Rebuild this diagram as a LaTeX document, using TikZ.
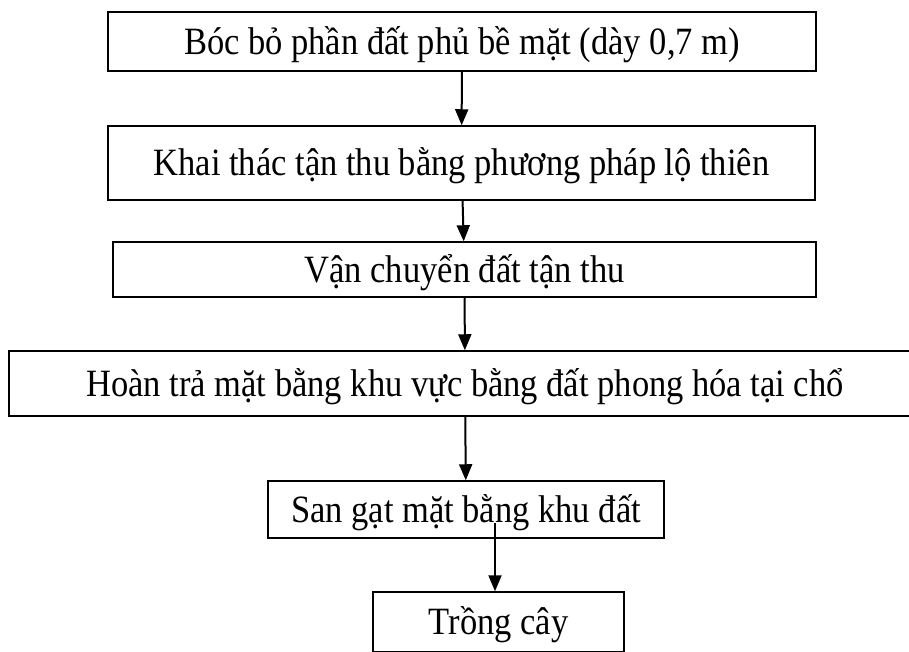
\documentclass[tikz,border=0pt]{standalone}
\usepackage{graphicx}
\usepackage{fontspec}
\setmainfont{Liberation Serif}
\usetikzlibrary{arrows.meta}
\newcommand\mystretch[1]{\scalebox{1}[1.12]{#1}}
\begin{document}
\begin{tikzpicture}[x=1pt,y=-1pt,
  box/.style={draw, line width=1.5pt, inner sep=0pt, text height=25.5pt, text depth=0pt,
    font=\fontsize{34.5}{40}\selectfont},
  arr/.style={line width=2pt, -{Triangle[length=16pt,width=13pt]}}]
\useasboundingbox (0,0) rectangle (909,651);
\clip (0,0) rectangle (909,651);
\node[box, minimum width=708pt, minimum height=59pt] (b1) at (462,41.5) {\mystretch{Bóc bỏ phần đất phủ bề mặt (dày 0,7 m)}};
\node[box, minimum width=707pt, minimum height=74pt] (b2) at (461.5,163) {\mystretch{Khai thác tận thu bằng phương pháp lộ thiên}};
\node[box, minimum width=703pt, minimum height=55pt] (b3) at (464.5,269.5) {\mystretch{Vận chuyển đất tận thu}};
\node[box, minimum width=912pt, minimum height=65pt] (b4) at (465,383.5) {\mystretch{Hoàn trả mặt bằng khu vực bằng đất phong hóa tại chổ}};
\node[box, minimum width=396pt, minimum height=57pt] (b5) at (466,509.5) {\mystretch{San gạt mặt bằng khu đất}};
\node[box, minimum width=251pt, minimum height=60pt] (b6) at (498.5,622) {\mystretch{Trồng cây}};
\coordinate (s5) at (495,523);
\draw[arr] (b1) -- (b2);
\draw[arr] (b2) -- (b3);
\draw[arr] (b3) -- (b4);
\draw[arr] (b4) -- (b5);
\draw[arr] (s5) -- (s5 |- b6.north);
\end{tikzpicture}
\end{document}
